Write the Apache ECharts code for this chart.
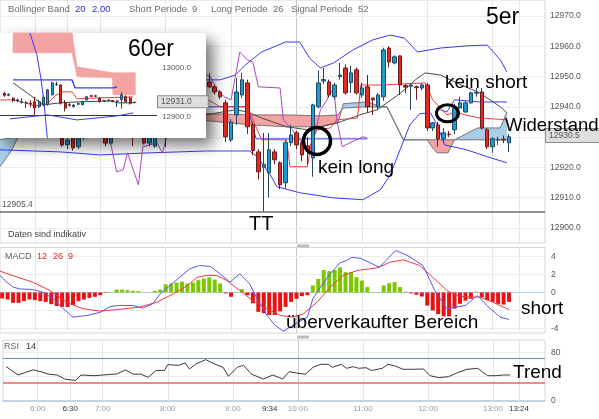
<!DOCTYPE html>
<html>
<head>
<meta charset="utf-8">
<title>5er / 60er Chart</title>
<script src="https://cdn.jsdelivr.net/npm/echarts@6.0.0/dist/echarts.min.js"></script>
<style>
html, body { margin: 0; padding: 0; background: #ffffff; }
#chart { width: 599px; height: 419px; }
</style>
</head>
<body>
<div id="chart"></div>
<script>
// ================= DATA =================
// 5-minute candles: [time, open, close, low, high]
const candles = [
  ['05:30',12946,12944,12942,12948],['05:35',12944,12945,12942,12947],['05:40',12945,12941,12940,12946],
  ['05:45',12941,12942,12939,12944],['05:50',12942,12939,12937,12943],['05:55',12939,12940,12936,12941],
  ['06:00',12940,12937,12935,12942],['06:05',12937,12936,12933,12939],['06:10',12936,12938,12934,12940],
  ['06:15',12938,12934,12932,12939],['06:20',12934,12935,12931,12937],['06:25',12935,12927.4,12926.8,12936],
  ['06:30',12927.5,12929,12926,12931],['06:35',12931,12926.4,12925.5,12932],['06:40',12926.8,12930,12926,12931],
  ['06:45',12930,12932,12929,12934],['06:50',12932,12934,12930,12936],['06:55',12934,12933,12931,12937],
  ['07:00',12933,12935,12931,12937],['07:05',12935,12928,12927,12936],['07:10',12928,12931,12927.5,12932],
  ['07:15',12931,12933,12930,12935],['07:20',12933,12936,12932,12938],['07:25',12936,12934,12933,12938],
  ['07:30',12934,12932,12927,12935],['07:35',12932,12935,12931,12937],['07:40',12935,12928,12927.5,12936],
  ['07:45',12928,12930,12927,12932],['07:50',12927,12932,12926.5,12933],['07:55',12932,12936,12931,12938],
  ['08:00',12936,12934,12926.8,12938],['08:05',12934,12938,12933,12940],['08:10',12938,12941,12937,12943],
  ['08:15',12941,12944,12940,12946],['08:20',12944,12947,12943,12949],['08:25',12947,12949,12945,12951],
  ['08:30',12949,12950,12947,12952],['08:35',12950,12949,12947,12952],['08:40',12948.2,12946.6,12946.2,12951.2],
  ['08:45',12946.6,12944.9,12944,12947.5],['08:50',12944.9,12943.3,12942.5,12945.5],['08:55',12941.3,12930.1,12928.4,12942.3],
  ['09:00',12929.1,12935.0,12928.4,12936],['09:05',12937.3,12944.9,12934,12949.5],['09:10',12943.9,12948.9,12943,12951.2],
  ['09:15',12947.9,12933.4,12931,12949],['09:20',12934,12925.5,12924,12935],['09:25',12925.1,12918.5,12916,12926],
  ['09:30',12920,12921,12905.4,12931.4],['09:35',12918.2,12925.8,12910,12931.4],['09:40',12925.1,12922.5,12921,12926],
  ['09:45',12921.5,12914.2,12912.8,12922],['09:50',12914.9,12928.1,12913,12929],['09:55',12928.1,12930.7,12927,12934],
  ['10:00',12931.4,12927.4,12926,12932],['10:05',12928.1,12924.1,12922,12929],['10:10',12927,12925.5,12921,12930],
  ['10:15',12923.1,12940.6,12916.9,12941],['10:20',12940.0,12947.9,12939.5,12952],['10:25',12948.5,12949,12947.5,12952.8],
  ['10:30',12948.2,12943.9,12943,12949],['10:35',12943.3,12947.2,12942.5,12948],['10:40',12950,12950.5,12949,12954.5],
  ['10:45',12952.8,12944.6,12944,12954],['10:50',12948,12951.2,12944.6,12953.5],['10:55',12952.2,12944.6,12944,12953],
  ['11:00',12943.9,12946.2,12943,12948],['11:05',12946.6,12940,12938,12950.5],['11:10',12942.9,12942.3,12937.3,12943],
  ['11:15',12940,12943.9,12939,12944.5],['11:20',12943.3,12958.8,12942,12959.5],['11:25',12959.4,12954.8,12953,12960],
  ['11:30',12954.5,12956.5,12954,12957],['11:35',12956.8,12947.2,12943.9,12957],['11:40',12947,12946.5,12944.6,12947.5],
  ['11:45',12946.8,12947.2,12939,12947.9],['11:50',12946.6,12946.3,12942.3,12947],['11:55',12946.2,12947.2,12945.5,12947.8],
  ['12:00',12947.2,12933,12932,12947.9],['12:05',12933,12934.7,12932,12935],['12:10',12934,12929.4,12926.8,12935],
  ['12:15',12929.4,12931.4,12928,12933],['12:20',12931,12930.8,12930,12932],['12:25',12932.4,12939.6,12931,12941],
  ['12:30',12939.6,12941.3,12939.5,12943.3],['12:35',12938.3,12941.3,12938,12942],['12:40',12941.3,12944.6,12941,12945],
  ['12:45',12944.5,12944.8,12943.3,12946.2],['12:50',12944.9,12933,12932.5,12946.2],['12:55',12932.4,12926.8,12926,12933],
  ['13:00',12926.8,12929.4,12924.8,12930],['13:05',12929,12929.2,12927.4,12930.1],['13:10',12929.3,12929.0,12928,12930.5],
  ['13:15',12928.1,12930.1,12925.1,12931]
];

// Indicator lines of the 5er chart: [minute of day, price]
const bbUpper = [[328,12950.5],[420,12951.5],[518,12948.9],[530,12948.9],[544,12950.5],[553,12953.8],[568,12958.1],
  [590,12961.4],[603,12961.4],[612,12956.1],[622,12952.8],[634,12954.5],[652,12958.8],[670,12962.1],[686,12963.7],
  [699,12962.7],[711,12958.1],[732,12959.4],[755,12960.1],[775,12960.4],[787,12955.5],[793,12951.5]];
const bbLower = [[328,12925.8],[383,12925.1],[420,12924.1],[466,12924.8],[518,12925.4],[557,12925.4],[564,12923.5],
  [576,12917.5],[582,12913.6],[603,12911.6],[634,12909.9],[661,12909.3],[677,12912.6],[686,12917.5],[695,12925.8],
  [704,12934.0],[713,12937.7],[723,12938.0],[729,12934.0],[736,12927.4],[756,12925.8],[775,12923.5],[793,12921.5]];
const bbMidA = [[518,12940.0],[555,12940.0],[563,12929.4],[665,12929.4]];
const bbMidB = [[732,12939.0],[738,12938.3],[745,12942.3],[768,12941.6],[793,12941.6]];
const tenkan = [[516,12942.9],[530,12940.0],[555,12940.0],[568,12929.1],[591,12929.1],[594,12920.2],[610,12920.2],
  [614,12929.1],[619,12932.4],[631,12933.0],[637,12935.7],[656,12936.3],[659,12947.2],[679,12947.2],[718,12947.9],
  [725,12942.3],[738,12937.3],[745,12938.3],[755,12937.3],[768,12936.3],[793,12935.7]];
const kijun = [[516,12937.3],[544,12939.0],[555,12938.3],[568,12936.3],[591,12933.4],[610,12932.4],[622,12933.4],
  [640,12935.0],[658,12937.3],[674,12939.0],[683,12941.3],[692,12943.6],[701,12946.2],[709,12948.9],[718,12951.2],
  [732,12950.5],[745,12948.2],[768,12944.6],[787,12940.0],[793,12938.0]];
const chikou = [[328,12940.6],[383,12939.0],[420,12936.3],[426,12934.0],[435,12918.5],[441,12919.2],[445,12924.8],
  [455,12914.2],[459,12926.8],[472,12928.1],[477,12924.8],[481,12930.1],[493,12939.0],[502,12945.6],[512,12951.5],
  [521,12949.9],[527,12945.6],[534,12943.3],[540,12942.3],[548,12958.1],[555,12955.5],[560,12954.8],[565,12946.6],
  [585,12946.2],[588,12935.7],[596,12932.4],[603,12929.1],[610,12926.8],[615,12928.1],[622,12939.0],[628,12942.3],
  [631,12945.6],[635,12943.3],[637,12935.7],[642,12926.8],[649,12928.1],[661,12930.1],[665,12929.7]];
// Ichimoku cloud: [minute, span A, span B]
const cloud = [[328,12929.1,12920.2],[339,12929.7,12925.8],[346,12935,12931],[420,12937,12936],[518,12935.4,12937.7],
  [560,12934.0,12937.3],[591,12933.4,12937.3],[622,12933.4,12937.0],[638,12934.7,12937.3],[643,12941.0,12939.6],
  [665,12941.6,12940.0],[670,12941.0,12940.0],[677,12940.0,12940.0],[683,12940.0,12940.0],[698,12929.1,12929.1],
  [720,12929.1,12929.1],[725,12926.4,12929.1],[729,12924.8,12929.1],[739,12924.8,12929.1],[745,12929.1,12929.1],
  [766,12933.0,12929.1],[787,12933.0,12929.1],[793,12938.3,12929.1]];

// MACD 12 26 9 — histogram per candle, lines as [minute, value]
const macdHist = [-0.67,-0.78,-1.15,-1.15,-0.96,-0.78,-0.85,-0.96,-1.04,-1.3,-1.5,-1.6,-1.6,-1.4,-0.96,-0.78,-0.6,-0.48,
  -0.3,-0.05,0.05,0.33,0.33,0.26,0.19,0.15,0.02,0.02,0.19,0.33,0.9,1.0,1.1,1.2,1.0,1.1,1.37,1.55,1.67,1.44,1.0,-0.1,
  -0.48,0.05,0.37,-0.3,-1.2,-2.15,-2.3,-2.5,-2.5,-2.1,-1.6,-1.04,-0.7,-0.4,-0.3,0.78,1.5,2.5,2.37,2.5,2.8,2.26,2.26,
  1.7,1.33,0.6,0.05,0.05,0.78,1.04,1.15,0.6,0.1,-0.1,-0.25,-0.45,-1.45,-2.0,-2.4,-2.65,-2.65,-1.8,-1.26,-0.9,-0.7,
  0.1,-0.5,-0.85,-1.04,-1.26,-1.33,-1.04];
const macdLine = [[328,1.9],[334,1.15],[340,0.6],[346,0.4],[358,0.33],[367,0.04],[377,-0.7],[386,-1.8],[395,-2.74],
  [408,-2.55],[420,-2.2],[429,-1.55],[438,-1.44],[450,-1.44],[459,-1.74],[468,-1.26],[475,-0.15],[484,0.78],[493,1.7],
  [502,2.63],[511,3.0],[521,2.9],[530,2.07],[539,1.15],[548,2.07],[557,0.96],[564,-0.7],[573,-2.55],[580,-3.6],
  [588,-4.3],[596,-3.7],[603,-3.2],[610,-2.74],[615,-0.7],[622,0.6],[631,2.07],[640,3.3],[646,3.55],[651,3.9],
  [659,3.8],[676,2.8],[691,4.67],[702,4.1],[716,3.0],[727,0.2],[738,-1.8],[755,-1.44],[766,-0.33],[776,-1.6],
  [787,-2.74],[795,-3.0]];
const macdSignal = [[328,2.37],[344,1.7],[358,1.15],[374,0.22],[389,-1.07],[404,-1.8],[420,-2.07],[435,-1.9],
  [456,-1.63],[472,-1.07],[487,-0.15],[500,0.78],[509,1.7],[518,1.9],[527,1.9],[536,1.33],[548,0.22],[560,-0.9],
  [573,-1.8],[585,-2.55],[597,-2.74],[606,-2.4],[619,-1.07],[631,0.6],[643,1.9],[656,2.45],[667,2.63],[674,2.74],
  [686,3.37],[698,3.63],[713,3.0],[725,1.7],[738,0.22],[747,-0.33],[756,-0.5],[768,-0.5],[780,-1.07],[795,-1.9]];

// RSI 14: [minute, value]
const rsiLine = [[331,56.3],[342,42.6],[349,47],[356,51],[363,48],[370,44],[378,42.6],[385,36],[395,33.7],[400,42.6],
  [412,41.5],[433,44.3],[441,51],[448,44],[455,44],[462,38.8],[469,49.7],[477,50.3],[480,59.6],[490,58.5],[496,62.3],
  [500,52.5],[506,60.7],[515,67.8],[523,60.7],[531,55.2],[536,40.4],[544,55.2],[550,58.5],[557,44.3],[568,36],
  [577,42.6],[586,36],[592,48.1],[600,45.4],[607,44],[614,55.2],[621,60.1],[628,60.1],[632,55.2],[640,60.1],
  [645,53.6],[651,56.3],[656,53.6],[663,54.6],[668,50],[678,53.6],[683,60.1],[689,58],[697,52],[706,52],[716,52.5],
  [722,41.5],[730,38.3],[739,39.9],[748,47],[756,52],[766,53.6],[775,41.5],[783,41.5],[790,42.6],[796,42.6]];
const rsiLevels = [70, 30];

// Axis ticks / labels
const priceTicks = [12900,12910,12920,12930,12940,12950,12960,12970];
const macdTicks = [4, 2, 0, -4];
const macdGrid = [4, 2, -2, -4];
const rsiTicks = [0, 80];
const rsiGrid = [40, 80];
const timeLabels = ['6:00','6:30','7:00','8:00','9:00','9:34','10:00','11:00','12:00','13:00','13:24'];
const boldTimes = ['6:30','9:34','13:24'];
const gridTimes = ['6:00','6:30','7:00','8:00','9:00','10:00','11:00','12:00','13:00','13:24'];
const lastPrice = 12930.5;
const lowMark = 12905.4;

// 60er inset (hourly): [slot, open, close, low, high]
const insetCandles = [[1,12948,12944,12941,12951],[2,12944,12946,12942,12948],[3,12938,12934,12930,12940],
  [4,12933,12935,12930,12937],[5,12930,12931,12927,12938],[6,12928,12929,12918,12932],[7,12928,12927,12920,12934],
  [8,12931,12918,12904,12941],[9,12921,12931,12918,12935],[10,12925,12940,12921,12944],[11,12925,12955,12923,12957],
  [12,12945,12969,12944,12972],[13,12966,12967,12963,12972],[14,12965,12928,12925,12967],[15,12928,12918,12911,12934],
  [16,12925,12924,12921,12928],[17,12921,12924,12919,12926],[18,12926,12927,12924,12930],[19,12925,12931,12924,12933],
  [20,12935,12941,12933,12943],[21,12943,12942,12941,12945],[22,12942,12943,12940,12945],[23,12938,12931,12929,12940],
  [24,12932,12933,12931,12935],[25,12934,12933,12932,12936],[26,12933,12931,12930,12934],[27,12932,12932.5,12920,12934],
  [28,12935,12945,12917,12951],[29,12941,12931,12929,12944],[30,12938,12928,12925,12941],[31,12930,12929,12928,12931]];
const insetCloud = [[3.0,13071,13030.6],[16.6,13071,13030.6],[17.8,13002,12981.6],[25.9,12990,12979.6],
  [26.1,12990,12945],[31.2,12990,12945]];
const insetRed = [[0,12934.7],[2.8,12934.7],[5.8,12928.6],[8.1,12922.5],[10.9,12926.5],[12.7,12942.9],[14.3,12951],
  [16.6,12951],[17.8,12936.8],[23.1,12938.8],[30.7,12940.8]];
const insetBlack = [[3.0,12969.4],[6.9,12944.9],[9.9,12924.5],[13.9,12928.6],[17.8,12930.6],[26.1,12932.7],
  [26.8,12928.6],[30.7,12928.6]];
const insetBlueUpper = [[3.0,12975.5],[16.6,12975.5],[17.3,12959.2],[26.1,12959.2],[27.0,12961.2]];
const insetBlueLower = [[2.3,12896],[10.9,12904.1],[17.8,12893.9],[27.0,12902],[30.7,12908.2]];
const insetBlueSteep = [[6.9,13071],[8.5,13026.5],[9.5,12975.5],[10.2,12924.5],[10.9,12857]];
const insetTicks = [12900, 13000];
const insetLast = 12931.0;
const insetBase = 12903;

// ================= CHART =================
const FONT = 'Liberation Sans, Arial, sans-serif';
const X_MIN = 328, X_MAX = 828;
const toMin = t => { const p = t.split(':').map(Number); return p[0] * 60 + p[1]; };
const minToLabel = {};
timeLabels.forEach(t => { minToLabel[toMin(t)] = t; });

const UP = '#1b9ad6', DOWN = '#e22a22';
const PINK = '#f4a3a3', SKY = '#a9cfe8';
const CLEAR = 'rgba(0,0,0,0)';

function lineS(data, color, width, xi, yi, z) {
  return { type: 'line', data: data, xAxisIndex: xi, yAxisIndex: yi, z: z, showSymbol: false, symbol: 'none',
    silent: true, animation: false, lineStyle: { color: color, width: width } };
}
function guide(xi, yi, y0, items, z) {
  return { type: 'line', xAxisIndex: xi, yAxisIndex: yi, z: z || 1, silent: true, data: [[X_MIN, y0]],
    showSymbol: false, symbol: 'none', lineStyle: { color: CLEAR, width: 0 }, itemStyle: { color: CLEAR }, animation: false,
    markLine: { silent: true, z: z || 1, symbol: ['none', 'none'], animation: false, label: { show: false },
      lineStyle: { type: 'solid', width: 1 }, data: items } };
}
const vLines = () => gridTimes.map(t => ({ xAxis: toMin(t),
  lineStyle: { color: t === '10:00' ? '#c6c6c6' : '#e6e6e6' } }));
const hLines = (vals, color) => vals.map(v => ({ yAxis: v, lineStyle: { color: color } }));

function cloudRender(rows, up, down) {
  return function (params, api) {
    const i = params.dataIndex;
    if (i >= rows.length - 1) return null;
    const r0 = rows[i], r1 = rows[i + 1];
    const pts = [api.coord([r0[0], r0[1]]), api.coord([r1[0], r1[1]]), api.coord([r1[0], r1[2]]), api.coord([r0[0], r0[2]])];
    const bull = (r0[1] + r1[1]) >= (r0[2] + r1[2]);
    const c = bull ? up : down;
    return { type: 'polygon', shape: { points: pts }, style: { fill: c, stroke: c, lineWidth: 0.6 } };
  };
}
function candleS(data, xi, yi, z, w) {
  return { type: 'candlestick', xAxisIndex: xi, yAxisIndex: yi, z: z, barWidth: w, silent: true, animation: false,
    data: data, encode: { x: 0, y: [1, 2, 3, 4] },
    itemStyle: { color: UP, color0: DOWN, borderColor: '#24465f', borderColor0: '#6b1d1d', borderWidth: 1 } };
}
function tagS(xi, yi, value, pad, z) {
  // price tag drawn as a markLine label at the end of an invisible line
  return { type: 'line', xAxisIndex: xi, yAxisIndex: yi, z: z, silent: true, animation: false,
    data: [[X_MIN, value]], showSymbol: false, symbol: 'none', lineStyle: { color: CLEAR, width: 0 },
    markLine: { silent: true, z: z, symbol: ['none', 'none'], animation: false,
      lineStyle: { color: CLEAR, width: 1, type: 'solid' },
      label: { show: true, position: 'end', formatter: value.toFixed(1), backgroundColor: '#dedede',
        borderColor: '#8a8a8a', borderWidth: 1, padding: pad, color: '#555', fontSize: 8.5, fontFamily: FONT,
        distance: 1, opacity: 1 },
      data: [{ yAxis: value }] } };
}

const mainCandles = candles.map(r => [toMin(r[0]), r[1], r[2], r[3], r[4]]);
const histData = candles.map((r, k) => [toMin(r[0]), macdHist[k]]);

const axisLabelBase = { color: '#555', fontSize: 8.5, fontFamily: FONT };
const hiddenX = (gi) => ({ type: 'value', gridIndex: gi, min: X_MIN, max: X_MAX, axisLabel: { show: false },
  axisLine: { show: false }, axisTick: { show: false }, splitLine: { show: false } });

const option = {
  animation: false,
  backgroundColor: '#ffffff',
  textStyle: { fontFamily: FONT },
  grid: [
    { left: 0, right: 54, top: 0, height: 243, show: true, borderColor: '#d6d6d6', borderWidth: 1 },
    { left: 0, right: 54, top: 247.5, height: 85.5, show: true, borderColor: '#d6d6d6', borderWidth: 1 },
    { left: 0, right: 54, top: 340, height: 61, show: true, borderColor: '#d6d6d6', borderWidth: 1 },
    { left: 0, top: 33, width: 157, height: 105, show: false, z: 60 }
  ],
  xAxis: [
    hiddenX(0), hiddenX(1),
    { type: 'value', gridIndex: 2, min: X_MIN, max: X_MAX, interval: 1,
      axisLine: { show: true, lineStyle: { color: '#b7cbe0', width: 1.5 } }, axisTick: { show: false }, splitLine: { show: false },
      axisLabel: { color: '#9a9a9a', fontSize: 8, fontFamily: FONT, margin: 4,
        formatter: v => { const t = minToLabel[v]; if (!t) return ''; return boldTimes.indexOf(t) >= 0 ? '{d|' + t + '}' : t; },
        rich: { d: { color: '#333', fontSize: 8, fontFamily: FONT } } } },
    { type: 'value', gridIndex: 3, min: 0, max: 36.2, show: false, z: 60 }
  ],
  yAxis: [
    { type: 'value', gridIndex: 0, position: 'right', min: 12895, max: 12975.28, interval: 5,
      axisLine: { show: false }, axisTick: { show: false }, splitLine: { show: false },
      axisLabel: Object.assign({}, axisLabelBase, { margin: 5,
        formatter: v => priceTicks.indexOf(v) >= 0 ? v.toFixed(1) : '' }) },
    { type: 'value', gridIndex: 1, position: 'right', min: -4.5, max: 5, interval: 0.5,
      axisLine: { show: false }, axisTick: { show: false }, splitLine: { show: false },
      axisLabel: Object.assign({}, axisLabelBase, { margin: 6,
        formatter: v => macdTicks.indexOf(v) >= 0 ? String(v) : '' }) },
    { type: 'value', gridIndex: 2, position: 'right', min: 0, max: 100, interval: 10,
      axisLine: { show: false }, axisTick: { show: false }, splitLine: { show: false },
      axisLabel: Object.assign({}, axisLabelBase, { margin: 6,
        formatter: v => rsiTicks.indexOf(v) >= 0 ? String(v) : '' }) },
    { type: 'value', gridIndex: 3, position: 'right', min: 12857, max: 13071, interval: 1, z: 60,
      axisLine: { show: false }, axisTick: { show: false }, splitLine: { show: false },
      axisLabel: { color: '#555', fontSize: 8, fontFamily: FONT, margin: 5,
        formatter: v => insetTicks.indexOf(v) >= 0 ? v.toFixed(1) : '' } }
  ],
  series: [
    // ---- main 5er panel ----
    guide(0, 0, 12930, vLines().concat(hLines(priceTicks, '#ececec')).concat([
      { yAxis: lowMark, lineStyle: { color: '#6e6e6e', width: 1.6 },
        label: { show: true, position: 'insideStartTop', formatter: lowMark.toFixed(1), color: '#555',
          fontSize: 8.5, fontFamily: FONT, distance: 2 } }])),
    { type: 'custom', xAxisIndex: 0, yAxisIndex: 0, z: 2, silent: true, animation: false,
      data: cloud, encode: { x: 0, y: [1, 2] }, renderItem: cloudRender(cloud, SKY, PINK) },
    lineS(cloud.map(r => [r[0], r[1]]), '#7a7a7a', 1, 0, 0, 2.5),
    lineS(cloud.map(r => [r[0], r[2]]), '#7a7a7a', 1, 0, 0, 2.5),
    lineS(bbUpper, '#3a3af2', 1, 0, 0, 3),
    lineS(bbLower, '#3a3af2', 1, 0, 0, 3),
    lineS(bbMidA, '#3a3af2', 1, 0, 0, 3),
    lineS(bbMidB, '#3a3af2', 1, 0, 0, 3),
    lineS(kijun, '#4a4a4a', 1, 0, 0, 3),
    lineS(tenkan, '#f23a3a', 1, 0, 0, 3),
    lineS(chikou, '#b044c4', 1, 0, 0, 3),
    candleS(mainCandles, 0, 0, 4, 4),
    tagS(0, 0, lastPrice, [2, 24, 2, 3], 6),
    // ---- MACD panel ----
    guide(1, 1, 0, vLines().concat(hLines(macdGrid, '#ececec')).concat([{ yAxis: 0, lineStyle: { color: '#b9d0e8' } }])),
    { type: 'bar', xAxisIndex: 1, yAxisIndex: 1, z: 2, barWidth: 4, silent: true, animation: false, data: histData,
      itemStyle: { color: p => (p.value[1] >= 0 ? '#7cc800' : '#e81212') } },
    lineS(macdSignal, '#ee3a3a', 1, 1, 1, 3),
    lineS(macdLine, '#5656f0', 1, 1, 1, 3),
    // ---- RSI panel ----
    guide(2, 2, 50, vLines().concat(hLines(rsiGrid, '#ececec')).concat([
      { yAxis: rsiLevels[0], lineStyle: { color: '#5b98ae', width: 1.2 } },
      { yAxis: rsiLevels[1], lineStyle: { color: '#f28a8a', width: 2 } }])),
    lineS(rsiLine, '#3a3a3a', 1, 2, 2, 3),
    // ---- 60er inset ----
    { type: 'custom', xAxisIndex: 3, yAxisIndex: 3, z: 61, silent: true, animation: false,
      data: insetCloud, encode: { x: 0, y: [1, 2] }, renderItem: cloudRender(insetCloud, PINK, PINK) },
    lineS(insetBlueUpper, '#3a3af2', 1.4, 3, 3, 62),
    lineS(insetBlueLower, '#3a3af2', 1, 3, 3, 62),
    lineS(insetBlueSteep, '#3a3af2', 1, 3, 3, 62),
    lineS(insetBlack, '#444', 1, 3, 3, 62),
    lineS(insetRed, '#f23a3a', 1, 3, 3, 62),
    candleS(insetCandles, 3, 3, 63, 2.5),
    guide(3, 3, 12930, [{ yAxis: insetBase, lineStyle: { color: '#333', width: 1 } }], 62),
    tagS(3, 3, insetLast, [1, 16, 1, 3], 64)
  ],
  graphic: { elements: [
    // inset card with drop shadow
    { type: 'rect', z: 50, silent: true, shape: { x: 0, y: 33, width: 206, height: 105 },
      style: { fill: '#ffffff', shadowBlur: 14, shadowColor: 'rgba(0,0,0,0.55)', shadowOffsetX: 7, shadowOffsetY: 7 } },
    // header
    ...[['Bollinger Band', 8, '#6b6b6b'], ['20', 75, '#2e2ee0'], ['2.00', 92, '#2e2ee0'], ['Short Periode', 129, '#6b6b6b'],
        ['9', 192, '#6b6b6b'], ['Long Periode', 211, '#6b6b6b'], ['26', 273, '#6b6b6b'], ['Signal Periode', 291, '#6b6b6b'],
        ['52', 358, '#6b6b6b']].map(a => ({ type: 'text', z: 100, silent: true,
      style: { text: a[0], x: a[1], y: 9, fill: a[2], fontSize: 9.5, fontFamily: FONT,
        textAlign: 'left', align: 'left', textVerticalAlign: 'middle', verticalAlign: 'middle' } })),
    // panel titles
    ...[['MACD', 5, 257, '#666'], ['12', 37, 257, '#e02020'], ['26', 53, 257, '#e02020'], ['9', 68, 257, '#e02020'],
        ['RSI', 4, 347, '#666'], ['14', 26, 347, '#333'],
        ['Daten sind indikativ', 8, 235, '#444']].map(a => ({ type: 'text', z: 100, silent: true,
      style: { text: a[0], x: a[1], y: a[2], fill: a[3], fontSize: 9, fontFamily: FONT,
        textAlign: 'left', align: 'left', textVerticalAlign: 'middle', verticalAlign: 'middle' } })),
    // big annotations
    ...[['5er', 486, 18, 23], ['60er', 128, 50, 23], ['kein short', 445, 83, 19], ['Widerstand', 505, 126, 18.5],
        ['kein long', 318, 168, 19], ['TT', 249, 224, 20], ['short', 521, 309, 19],
        ['überverkaufter Bereich', 286, 323, 19], ['Trend', 513, 373, 19]].map(a => ({ type: 'text', z: 100, silent: true,
      style: { text: a[0], x: a[1], y: a[2], fill: '#000', fontSize: a[3], fontFamily: FONT,
        textAlign: 'left', align: 'left', textVerticalAlign: 'middle', verticalAlign: 'middle' } })),
    // circles
    { type: 'circle', z: 100, silent: true, shape: { cx: 317, cy: 141, r: 13.5 },
      style: { fill: 'none', stroke: '#000', lineWidth: 3.5 } },
    { type: 'ellipse', z: 100, silent: true, shape: { cx: 447.5, cy: 113.3, rx: 11, ry: 8.5 },
      style: { fill: 'none', stroke: '#000', lineWidth: 3 } },
    // panel grips
    { type: 'rect', z: 100, silent: true, shape: { x: 297, y: 244.5, width: 12, height: 3 }, style: { fill: '#bdbdbd' } },
    { type: 'rect', z: 100, silent: true, shape: { x: 297, y: 335.5, width: 12, height: 3 }, style: { fill: '#bdbdbd' } }
  ] }
};

const chart = echarts.init(document.getElementById('chart'), null, { renderer: 'canvas' });
chart.setOption(option);
</script>
</body>
</html>
